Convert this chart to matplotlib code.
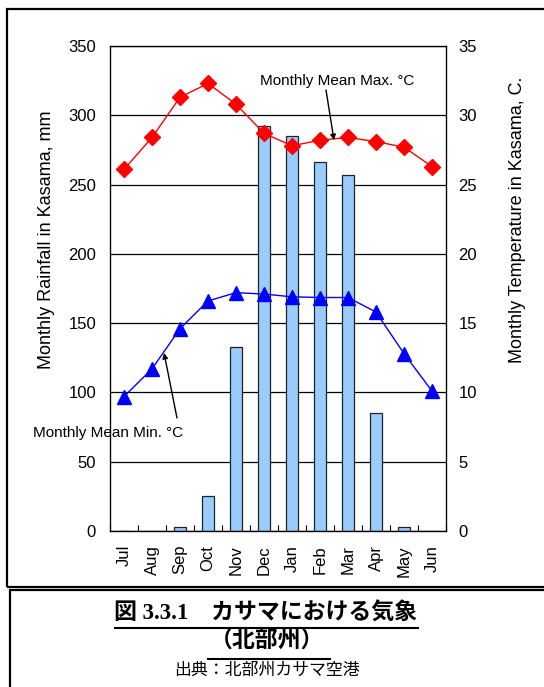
import matplotlib
matplotlib.use("Agg")
import matplotlib.pyplot as plt
from matplotlib.patches import Rectangle
from matplotlib.lines import Line2D
import numpy as np

plt.rcParams['font.family'] = ['Liberation Sans', 'DejaVu Sans']

months = ["Jul", "Aug", "Sep", "Oct", "Nov", "Dec", "Jan", "Feb", "Mar", "Apr", "May", "Jun"]
rainfall_mm = [0, 0, 3, 25, 133, 292, 285, 266, 257, 85, 3, 0]
temp_max = [26.1, 28.4, 31.3, 32.3, 30.8, 28.7, 27.8, 28.2, 28.4, 28.1, 27.7, 26.3]
temp_min = [9.7, 11.7, 14.6, 16.6, 17.2, 17.1, 16.9, 16.85, 16.85, 15.8, 12.8, 10.1]
rain_ticks = [0, 50, 100, 150, 200, 250, 300, 350]
temp_ticks = [0, 5, 10, 15, 20, 25, 30, 35]

W, H = 544, 687
fig = plt.figure(figsize=(W / 100, H / 100), dpi=100)

def fx(px):
    return px / W

def fy(py):
    return 1 - py / H

# frames around chart and caption
fig.add_artist(Rectangle((fx(7), fy(587)), 1.2, fy(9) - fy(587), transform=fig.transFigure,
                         fill=False, edgecolor='black', linewidth=1.6))
fig.add_artist(Rectangle((fx(10), -0.2), 1.2, fy(590) + 0.2, transform=fig.transFigure,
                         fill=False, edgecolor='black', linewidth=1.6))

AX_L, AX_R, AX_T, AX_B = 110, 446, 46, 531
ax = fig.add_axes([fx(AX_L), fy(AX_B), fx(AX_R) - fx(AX_L), fy(AX_T) - fy(AX_B)])
x = np.arange(len(months))

def ax_x(px):
    return (px - AX_L) / (AX_R - AX_L)

def ax_y(py):
    return (AX_B - py) / (AX_B - AX_T)

ax.set_ylim(0, 350)
ax.set_yticks(rain_ticks)
ax.yaxis.grid(True, color='black', linewidth=0.9)
ax.set_axisbelow(True)
ax.bar(x, rainfall_mm, width=0.4, color='#99CCFF', edgecolor='#222222', linewidth=0.9, zorder=2)
ax.set_xlim(-0.5, len(months) - 0.5)
ax.set_xticks(x)
ax.set_xticklabels(months, rotation=90, fontsize=12)
ax.tick_params(axis='x', which='major', length=0, pad=10)
ax.set_xticks(np.arange(-0.5, len(months), 1.0), minor=True)
ax.tick_params(axis='x', which='minor', direction='in', length=4, width=0.8)
ax.tick_params(axis='y', length=0, labelsize=12, pad=10)
for s in ax.spines.values():
    s.set_linewidth(0.9)
ax.set_ylabel("Monthly Rainfall in Kasama, mm", fontsize=13)
ax.yaxis.set_label_coords(ax_x(55), ax_y(240))

ax2 = ax.twinx()
ax2.set_ylim(0, 35)
ax2.set_yticks(temp_ticks)
ax2.tick_params(axis='y', length=0, labelsize=12, pad=9)
ax2.plot(x, temp_max, color='#FF0000', linewidth=1.0, marker='D', markersize=8,
         markerfacecolor='#FF0000', markeredgecolor='#FF0000', zorder=3)
ax2.plot(x, temp_min, color='#0000FF', linewidth=1.0, marker='^', markersize=10,
         markerfacecolor='#0000FF', markeredgecolor='#0000FF', zorder=3)
ax2.set_ylabel("Monthly Temperature in Kasama, C.", fontsize=13)
ax2.yaxis.set_label_coords(ax_x(509), ax_y(220))

# series annotations
fig.text(fx(337), fy(81), "Monthly Mean Max. \u00b0C", ha='center', va='center', fontsize=11)
ax2.annotate("", xy=(7.5, 28.2), xycoords='data',
             xytext=(fx(326), fy(90)), textcoords='figure fraction',
             arrowprops=dict(arrowstyle='-|>', color='black', lw=1.0, mutation_scale=8,
                             shrinkA=0, shrinkB=0))
fig.text(fx(108), fy(433), "Monthly Mean Min. \u00b0C", ha='center', va='center', fontsize=11)
ax2.annotate("", xy=(1.43, 12.85), xycoords='data',
             xytext=(fx(177), fy(418)), textcoords='figure fraction',
             arrowprops=dict(arrowstyle='-|>', color='black', lw=1.0, mutation_scale=8,
                             shrinkA=0, shrinkB=0))

# caption
t1 = fig.text(fx(266), fy(614), "図 3.3.1\u3000カサマにおける気象", ha='center', va='center',
              fontsize=16.5, fontweight='bold',
              family=['Liberation Serif', 'Noto Sans CJK JP'])
t2 = fig.text(fx(267), fy(641), "（北部州）", ha='center', va='center',
              fontsize=16.5, fontweight='bold', family=['Noto Sans CJK JP'])
t3 = fig.text(fx(267), fy(670), "出典：北部州カサマ空港", ha='center', va='center',
              fontsize=12.2, family=['Noto Sans CJK JP'])

fig.canvas.draw()
r = fig.canvas.get_renderer()
for t, uy, padl, padr in ((t1, 628, 0, 0), (t2, 659, 2, 6)):
    bb = t.get_window_extent(r)
    fig.add_artist(Line2D([(bb.x0 - padl) / W, (bb.x1 + padr) / W], [fy(uy), fy(uy)],
                          transform=fig.transFigure, color='black', linewidth=1.5))

fig.savefig("out.png", dpi=100)
